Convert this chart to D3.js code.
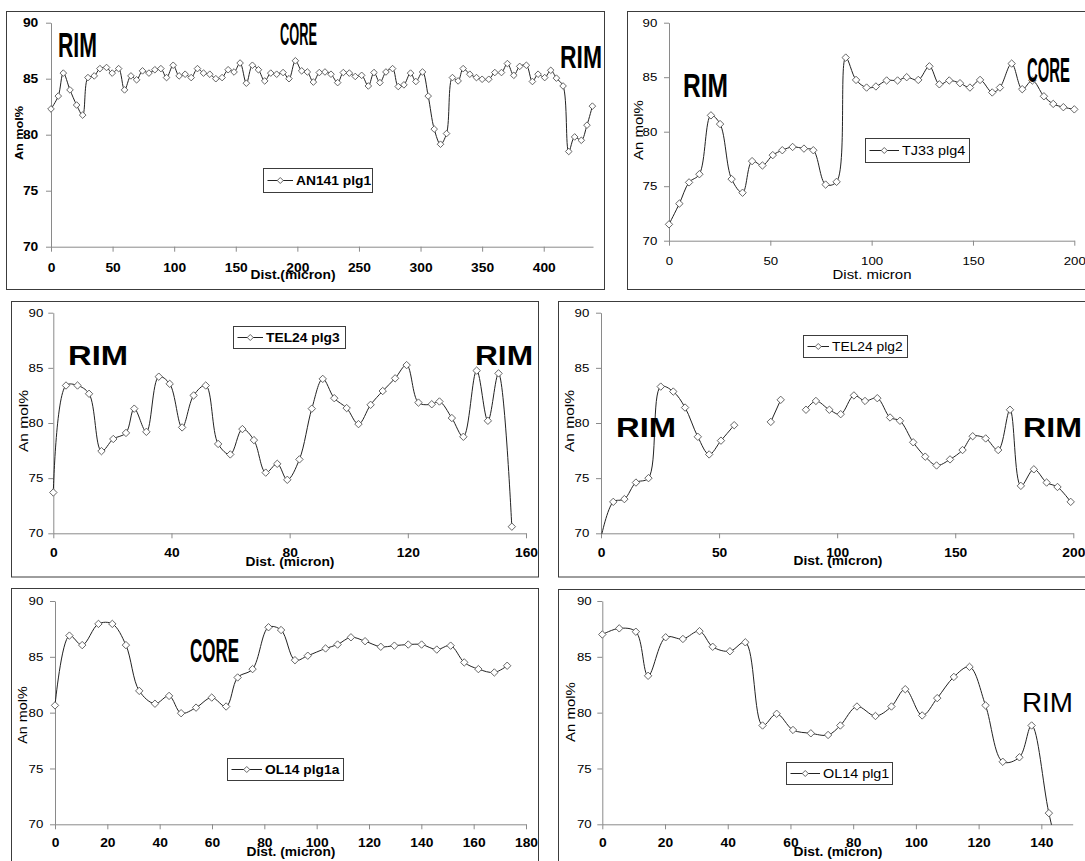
<!DOCTYPE html>
<html>
<head>
<meta charset="utf-8">
<script src="https://cdn.jsdelivr.net/npm/d3@7"></script>
<style>
  body { margin: 0; background: #fff; }
  svg text { font-family: "Liberation Sans", Arial, Helvetica, sans-serif; fill: #000; }
</style>
</head>
<body>
<script>
// ---- Plagioclase An-content profiles (An mol% vs distance in micron) ----

// AN141 plg1
const an141Dist = [0, 5.9, 10, 15.4, 20.8, 25.7, 30, 35.1, 39.7, 45.1, 49.7, 54.9, 59.7, 64.9, 69.5, 74.3, 79.5, 84.3, 89.2, 93.8,
  99.2, 104, 108.9, 113.8, 118.9, 123.8, 128.9, 133.8, 138.9, 143.8, 148.6, 153.5, 158.6, 163.5, 168.4, 173.5, 178.4, 183.2, 188.4, 193.2,
  198.4, 203.5, 208.1, 213.0, 217.8, 222.4, 227.3, 232.7, 237.3, 242.2, 247.0, 252.2, 257.6, 262.2, 267.0, 271.9, 277.3, 281.9, 286.5, 291.9,
  296.2, 301.6, 306.2, 311.1, 316.2, 321.1, 325.9, 330.5, 334.6, 340.0, 345.4, 350.0, 355.4, 360.3, 365.7, 370.5, 375.7, 380.5, 385.9, 390.8,
  395.4, 400.8, 405.7, 410.3, 415.7, 420.3, 425.1, 430.5, 435.1, 439.5];
const an141An = [82.3, 83.45, 85.5, 84.0, 82.65, 81.75, 85.1, 85.25, 85.9, 86.0, 85.5, 85.9, 84.0, 85.25, 84.9, 85.7, 85.5, 85.8, 85.9, 85.1,
  86.2, 85.25, 85.4, 85.1, 85.9, 85.5, 85.4, 85.0, 85.1, 85.8, 85.6, 86.4, 84.6, 86.2, 85.8, 84.8, 85.5, 85.4, 85.55, 85.0,
  86.6, 85.7, 85.6, 84.7, 85.55, 85.6, 85.4, 84.65, 85.55, 85.5, 85.2, 85.3, 84.35, 85.55, 84.65, 85.6, 85.9, 84.3, 84.45, 85.5,
  84.75, 85.6, 83.45, 80.5, 79.15, 80.1, 85.1, 84.8, 85.9, 85.4, 85.1, 84.95, 84.95, 85.55, 85.55, 86.35, 85.3, 86.1, 86.2, 84.75,
  85.4, 85.1, 85.75, 85.05, 84.35, 78.5, 79.8, 79.5, 80.85, 82.55];

// TJ33 plg4
const tj33Dist = [0, 5.1, 9.9, 15.0, 20.7, 25.2, 30.9, 36.3, 41.0, 46.1, 51.2, 55.9, 61.0, 66.6, 71.2, 77.3, 82.7, 87.2, 92.3, 97.5,
  102.1, 107.4, 112.8, 117.3, 123.0, 128.5, 133.4, 138.3, 143.6, 148.5, 153.5, 159.5, 163.3, 169.1, 174.3, 179.3, 185.0, 189.6, 194.6, 200.0];
const tj33An = [71.5, 73.4, 75.35, 76.1, 81.5, 80.7, 75.65, 74.4, 77.3, 76.9, 77.85, 78.3, 78.6, 78.45, 78.3, 75.15, 75.4, 86.8, 84.75, 84.05,
  84.15, 84.7, 84.7, 85.0, 84.75, 86.0, 84.35, 84.7, 84.45, 84.05, 84.75, 83.6, 84.05, 86.25, 83.9, 84.7, 83.25, 82.55, 82.25, 82.05];

// TEL24 plg3
const tel24p3Dist = [0, 4.3, 8.2, 12.1, 16.3, 20.3, 24.6, 27.4, 31.5, 35.7, 39.4, 43.6, 47.5, 51.6, 55.8, 59.9, 64.0, 67.9, 71.9, 75.8,
  79.2, 83.3, 87.5, 91.2, 95.1, 99.3, 103.3, 107.4, 111.5, 115.7, 119.6, 123.6, 128.1, 130.7, 134.9, 138.8, 143.3, 147.1, 150.7, 155.2];
const tel24p3An = [73.7, 83.4, 83.4, 82.65, 77.45, 78.55, 79.1, 81.3, 79.2, 84.2, 83.55, 79.6, 82.5, 83.4, 78.1, 77.15, 79.45, 78.45, 75.5, 76.3,
  74.85, 76.7, 81.3, 84.0, 82.25, 81.35, 79.9, 81.65, 82.9, 84.05, 85.25, 81.85, 81.7, 81.95, 80.45, 78.75, 84.75, 80.2, 84.5, 70.6];

// TEL24 plg2 (null = no analysis at that spot)
const tel24p2Dist = [0, 5.2, 9.9, 14.8, 20.1, 25.3, 30.6, 35.6, 41.0, 45.8, 50.8, 56.4, 61.5, 66.7, 71.9, 76.1, 81.5, 86.8, 91.0, 96.7,
  101.5, 107.1, 111.8, 117.0, 122.4, 126.6, 132.2, 137.3, 142.1, 147.8, 153.1, 157.4, 162.9, 168.2, 173.2, 177.8, 183.3, 188.7, 193.3, 198.9];
const tel24p2An = [69.6, 72.85, 73.1, 74.6, 75.0, 83.3, 82.85, 81.4, 78.75, 77.15, 78.4, 79.8, null, null, 80.1, 82.1, null, 81.2, 82.0, 81.2,
  80.8, 82.5, 82.0, 82.25, 80.5, 80.2, 78.25, 76.95, 76.15, 76.7, 77.55, 78.8, 78.6, 77.55, 81.2, 74.3, 75.8, 74.6, 74.2, 72.85];

// OL14 plg1a
const ol14aDist = [0, 5.5, 10.4, 16.6, 21.9, 27.1, 32.2, 38.2, 43.6, 48.2, 53.9, 59.9, 65.4, 69.8, 75.5, 81.6, 86.4, 91.7, 96.6, 103.4,
  108.0, 113.1, 118.5, 124.5, 129.7, 135.0, 140.1, 145.9, 151.2, 156.4, 161.8, 167.9, 172.8];
const ol14aAn = [80.65, 86.9, 86.05, 87.95, 87.95, 86.05, 81.95, 80.8, 81.5, 79.95, 80.45, 81.35, 80.55, 83.15, 83.9, 87.65, 87.4, 84.7, 85.1, 85.75,
  86.1, 86.75, 86.4, 85.9, 86.0, 86.1, 86.1, 85.65, 86.0, 84.5, 83.9, 83.6, 84.2];

// OL14 plg1
const ol14Dist = [0, 5.4, 10.7, 14.6, 20.2, 25.7, 31.0, 35.2, 40.7, 45.6, 51.1, 55.6, 60.8, 66.5, 72.0, 75.9, 81.2, 87.1, 92.2, 96.6,
  102.0, 106.8, 112.1, 117.1, 122.2, 127.7, 133.0, 136.9, 142.4, 147.5];
const ol14An = [87.0, 87.55, 87.25, 83.3, 86.75, 86.6, 87.3, 85.9, 85.5, 86.3, 78.85, 79.9, 78.45, 78.15, 78.0, 78.85, 80.55, 79.7, 80.55, 82.1,
  79.75, 81.3, 83.2, 84.1, 80.65, 75.6, 76.0, 78.85, 71.0, 65.0];

// Axis tick values
const yTicks = [70, 75, 80, 85, 90];
const an141Ticks = [0, 50, 100, 150, 200, 250, 300, 350, 400];
const tj33Ticks = [0, 50, 100, 150, 200];
const tel24p3Ticks = [0, 40, 80, 120, 160];
const tel24p2Ticks = [0, 50, 100, 150, 200];
const ol14aTicks = [0, 20, 40, 60, 80, 100, 120, 140, 160, 180];
const ol14Ticks = [0, 20, 40, 60, 80, 100, 120, 140];

// ---- layout of the six panels ----
const panels = [
  { id: "p1", name: "AN141 plg1", dist: an141Dist, an: an141An, xMax: 440, xTicks: an141Ticks,
    frame: [6.5, 11.5, 604.5, 289.5], plot: { l: 51, r: 593, t: 22.7, b: 246.7 },
    xBold: true, yBold: true, xLabOff: 16.6, yGap: 12.7, mark: 3.3,
    title: { text: "Dist.(micron)", x: 293, y: 279, size: 12, bold: true },
    ylab: { x: 19, y: 133, size: 11, bold: true },
    legend: { x0: 263.5, y0: 168.5, x1: 372.5, y1: 192.5, tx: 296, size: 12, bold: true },
    notes: [
      { text: "RIM", x: 58, y: 57, size: 35, w: 39, weight: "bold" },
      { text: "CORE", x: 280, y: 45, size: 32, w: 37, weight: "bold" },
      { text: "RIM", x: 560, y: 68, size: 32, w: 42, weight: "bold" }] },
  { id: "p2", name: "TJ33 plg4", dist: tj33Dist, an: tj33An, xMax: 200, xTicks: tj33Ticks,
    frame: [627.5, 11.5, 1095, 289.5], plot: { l: 669, r: 1074.3, t: 22.7, b: 240.7 },
    xBold: false, yBold: false, xLabOff: 16, yGap: 11.7, mark: 3.7,
    title: { text: "Dist. micron", x: 872, y: 279, size: 13, bold: false },
    ylab: { x: 638, y: 130, size: 13, bold: false },
    legend: { x0: 865.5, y0: 138.5, x1: 969.5, y1: 162.5, tx: 902, size: 12.5, bold: false },
    notes: [
      { text: "RIM", x: 683, y: 97, size: 33, w: 45, weight: "bold" },
      { text: "CORE", x: 1027, y: 82, size: 35, w: 43, weight: "bold" }] },
  { id: "p3", name: "TEL24 plg3", dist: tel24p3Dist, an: tel24p3An, xMax: 160, xTicks: tel24p3Ticks,
    frame: [11.5, 301.5, 538.5, 577], plot: { l: 53.3, r: 526, t: 312.7, b: 533.3 },
    xBold: true, yBold: false, xLabOff: 15, yGap: 10, mark: 3.7,
    title: { text: "Dist. (micron)", x: 290, y: 566, size: 12, bold: true },
    ylab: { x: 23, y: 421, size: 13.5, bold: false },
    legend: { x0: 233.5, y0: 326.5, x1: 345.5, y1: 348.5, tx: 266, size: 12, bold: true },
    notes: [
      { text: "RIM", x: 68, y: 365, size: 28, w: 60, weight: "bold" },
      { text: "RIM", x: 475, y: 365, size: 28, w: 58, weight: "bold" }] },
  { id: "p4", name: "TEL24 plg2", dist: tel24p2Dist, an: tel24p2An, xMax: 200, xTicks: tel24p2Ticks,
    frame: [558.5, 301.5, 1095, 577], plot: { l: 601, r: 1073.3, t: 312.7, b: 533.3 },
    xBold: true, yBold: false, xLabOff: 15, yGap: 11.7, mark: 3.7,
    title: { text: "Dist. (micron)", x: 838, y: 565, size: 12, bold: true },
    ylab: { x: 569, y: 421, size: 13.5, bold: false },
    legend: { x0: 803.5, y0: 335.5, x1: 907.5, y1: 357.5, tx: 832, size: 12, bold: false },
    notes: [
      { text: "RIM", x: 616, y: 437, size: 28, w: 60, weight: "bold" },
      { text: "RIM", x: 1023, y: 437, size: 28, w: 59, weight: "bold" }] },
  { id: "p5", name: "OL14 plg1a", dist: ol14aDist, an: ol14aAn, xMax: 180, xTicks: ol14aTicks,
    frame: [11.5, 588.5, 538.5, 875], plot: { l: 55, r: 526, t: 601, b: 824.3 },
    xBold: true, yBold: false, xLabOff: 14, yGap: 11.7, mark: 3.7,
    title: { text: "Dist. (micron)", x: 291, y: 856, size: 12, bold: true },
    ylab: { x: 23, y: 715, size: 12.5, bold: false },
    legend: { x0: 227.5, y0: 758.5, x1: 343.5, y1: 780.5, tx: 265, size: 12, bold: true },
    notes: [
      { text: "CORE", x: 190, y: 662, size: 33, w: 49, weight: "bold" }] },
  { id: "p6", name: "OL14 plg1", dist: ol14Dist, an: ol14An, xMax: 150, xTicks: ol14Ticks,
    frame: [558.5, 589.5, 1095, 875], plot: { l: 602.3, r: 1072.7, t: 601, b: 824.3 },
    xBold: true, yBold: false, xLabOff: 14, yGap: 10.6, mark: 3.7,
    title: { text: "Dist. (micron)", x: 838, y: 856, size: 12, bold: true },
    ylab: { x: 570, y: 712, size: 13, bold: false },
    legend: { x0: 786.5, y0: 762.5, x1: 892.5, y1: 784.5, tx: 823, size: 12.5, bold: false },
    notes: [
      { text: "RIM", x: 1022, y: 712, size: 28, w: 51, weight: "normal" }] }
];

const AXIS = "#8a8a8a", FRAME = "#3c3c3c", LINE = "#222", MARK = "#555";
const STRETCH = 1.15;   // text in this figure is set slightly wide
const diamond = r => `M0,${-r}L${r},0L0,${r}L${-r},0Z`;

const svg = d3.select("body").append("svg")
  .attr("width", 1085).attr("height", 861);
svg.append("rect").attr("width", 1085).attr("height", 861).attr("fill", "#fff");

function drawPanel(p) {
  const g = svg.append("g").attr("class", "panel");
  g.append("rect")
    .attr("x", p.frame[0]).attr("y", p.frame[1])
    .attr("width", p.frame[2] - p.frame[0]).attr("height", p.frame[3] - p.frame[1])
    .attr("fill", "#fff").attr("stroke", FRAME).attr("stroke-width", 1);

  const x = d3.scaleLinear().domain([0, p.xMax]).range([p.plot.l, p.plot.r]);
  const y = d3.scaleLinear().domain([70, 90]).range([p.plot.b, p.plot.t]);

  // y axis
  const ya = g.append("g").attr("transform", `translate(${p.plot.l},0)`)
    .call(d3.axisLeft(y).tickValues(yTicks).tickSize(5).tickSizeOuter(0).tickPadding(p.yGap - 5));
  // x axis
  const xa = g.append("g").attr("transform", `translate(0,${p.plot.b})`)
    .call(d3.axisBottom(x).tickValues(p.xTicks).tickSize(5).tickSizeOuter(0).tickPadding(p.xLabOff - 5));

  [ya, xa].forEach(a => {
    a.select(".domain").attr("stroke", AXIS);
    a.selectAll(".tick line").attr("stroke", AXIS);
  });
  ya.selectAll(".tick text").attr("class", "st")
    .style("font-size", (p.yBold ? 12 : 11.5) + "px").style("font-weight", p.yBold ? "bold" : "normal");
  xa.selectAll(".tick text").attr("class", "st")
    .style("font-size", (p.xBold ? 12 : 11.5) + "px").style("font-weight", p.xBold ? "bold" : "normal");

  // axis titles
  g.append("text").attr("class", "st")
    .attr("x", p.title.x).attr("y", p.title.y).attr("text-anchor", "middle")
    .style("font-size", p.title.size + "px").style("font-weight", p.title.bold ? "bold" : "normal")
    .text(p.title.text);
  g.append("text").attr("class", "st")
    .attr("transform", `translate(${p.ylab.x},${p.ylab.y}) rotate(-90)`)
    .attr("text-anchor", "middle").attr("dy", "0.35em")
    .style("font-size", p.ylab.size + "px").style("font-weight", p.ylab.bold ? "bold" : "normal")
    .text("An mol%");

  // data, clipped to the plot area
  const clipId = "clip-" + p.id;
  g.append("clipPath").attr("id", clipId).append("rect")
    .attr("x", p.plot.l - 8).attr("y", p.plot.t - 8)
    .attr("width", p.plot.r - p.plot.l + 16).attr("height", p.plot.b - p.plot.t + 8.5);
  const pts = p.dist.map((d, i) => ({ d, v: p.an[i] }));
  const line = d3.line()
    .defined(o => o.v !== null)
    .x(o => x(o.d)).y(o => y(o.v))
    .curve(d3.curveCatmullRom.alpha(0.5));
  const plotG = g.append("g").attr("clip-path", `url(#${clipId})`);
  plotG.append("path").datum(pts)
    .attr("d", line).attr("fill", "none").attr("stroke", LINE).attr("stroke-width", 1);
  plotG.selectAll("path.mk").data(pts.filter(o => o.v !== null)).join("path")
    .attr("class", "mk")
    .attr("transform", o => `translate(${x(o.d)},${y(o.v)})`)
    .attr("d", diamond(p.mark))
    .attr("fill", "#fff").attr("stroke", MARK).attr("stroke-width", 0.9);

  // legend
  const L = p.legend, cy = (L.y0 + L.y1) / 2;
  g.append("rect").attr("x", L.x0).attr("y", L.y0)
    .attr("width", L.x1 - L.x0).attr("height", L.y1 - L.y0)
    .attr("fill", "#fff").attr("stroke", FRAME).attr("stroke-width", 1);
  g.append("line").attr("x1", L.x0 + 4).attr("x2", L.tx - 3).attr("y1", cy).attr("y2", cy)
    .attr("stroke", LINE).attr("stroke-width", 1);
  g.append("path").attr("transform", `translate(${(L.x0 + 4 + L.tx - 3) / 2},${cy})`)
    .attr("d", diamond(3)).attr("fill", "#fff").attr("stroke", MARK).attr("stroke-width", 0.9);
  g.append("text").attr("class", "st")
    .attr("x", L.tx).attr("y", cy).attr("dy", "0.36em")
    .style("font-size", L.size + "px").style("font-weight", L.bold ? "bold" : "normal")
    .text(p.name);

  // RIM / CORE annotations
  p.notes.forEach(n => {
    g.append("text").attr("x", n.x).attr("y", n.y)
      .attr("textLength", n.w).attr("lengthAdjust", "spacingAndGlyphs")
      .style("font-size", n.size + "px").style("font-weight", n.weight)
      .text(n.text);
  });
}

panels.forEach(drawPanel);

// widen the ordinary labels to the figure's letter width
svg.selectAll("text.st").each(function () {
  const w = this.getComputedTextLength();
  d3.select(this).attr("textLength", w * STRETCH).attr("lengthAdjust", "spacingAndGlyphs");
});
</script>
</body>
</html>
